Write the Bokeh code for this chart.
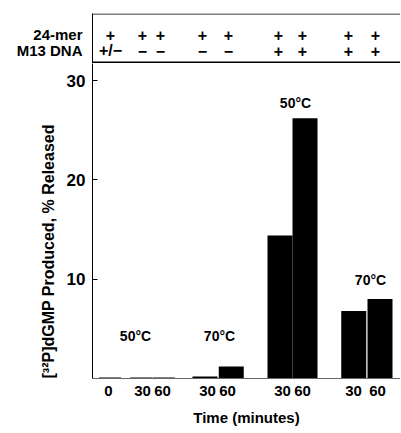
from bokeh.plotting import figure
from bokeh.models import ColumnDataSource, FixedTicker, Span, Range1d, Title
from bokeh.layouts import column
from bokeh.core.properties import value
from bokeh.embed import file_html
from bokeh.resources import INLINE

# ---- data ----
time_labels = ["0", "30", "60", "30", "60", "30", "60", "30", "60"]
tick_pos = [0.64, 2.0, 2.8, 4.6, 5.4, 7.6, 8.4, 10.44, 11.4]
bar_pos = [0.7, 1.95, 2.85, 4.5, 5.55, 7.5, 8.5, 10.45, 11.5]
bar_width = [0.88, 0.88, 0.88, 1.0, 1.0, 1.0, 1.0, 1.0, 1.0]
released = [0.1, 0.1, 0.1, 0.2, 1.2, 14.4, 26.2, 6.8, 8.0]
header_pos = [0.72, 2.0, 2.72, 4.4, 5.44, 7.44, 8.4, 10.24, 11.32]
header_rows = ["24-mer", "M13 DNA"]
header_row_y = [29, 13]
mer24 = ["+", "+", "+", "+", "+", "+", "+", "+", "+"]
m13 = ["+/\u2212", "\u2212", "\u2212", "\u2212", "\u2212", "+", "+", "+", "+"]
temp_labels = ["50\u00b0C", "70\u00b0C", "50\u00b0C", "70\u00b0C"]
temp_x = [1.72, 5.08, 8.12, 11.12]
temp_y = [4.3, 4.3, 27.7, 9.9]
y_ticks = [10, 20, 30]

FONT = "Liberation Sans"
xr = Range1d(0, 12.32)

# ---- header panel ----
h = figure(width=400, height=63, output_backend="svg", toolbar_location=None,
           x_range=xr, y_range=(0, 50), x_axis_location=None,
           min_border_left=92, min_border_right=0, min_border_top=13, min_border_bottom=0)
h.outline_line_color = None
h.xgrid.visible = False
h.ygrid.visible = False
hdr = ColumnDataSource(dict(x=header_pos, a=mer24, b=m13,
                            ya=[header_row_y[0]] * 9, yb=[header_row_y[1]] * 9))
for col, ycol in [("a", "ya"), ("b", "yb")]:
    h.text(x="x", y=ycol, text=col, source=hdr, text_font=value(FONT), text_font_style="bold",
           text_font_size="16px", text_align="center", text_baseline="middle", text_color="black")
h.add_layout(Span(location=49.5, dimension="width", line_color="black", line_width=1))
h.add_layout(Span(location=1, dimension="width", line_color="black", line_width=2))
hy = h.yaxis[0]
hy.ticker = FixedTicker(ticks=header_row_y)
hy.major_label_overrides = {yy: t for yy, t in zip(header_row_y, header_rows)}
hy.major_tick_line_color = None
hy.minor_tick_line_color = None
hy.axis_line_color = "black"
hy.major_label_standoff = 4
hy.major_label_text_font = FONT
hy.major_label_text_font_style = "bold"
hy.major_label_text_font_size = "15px"
hy.major_label_text_color = "black"

# ---- main chart ----
p = figure(width=400, height=369, output_backend="svg", toolbar_location=None,
           x_range=xr, y_range=(0, 31.72),
           min_border_left=92, min_border_right=0, min_border_top=0, min_border_bottom=54)
p.outline_line_color = None
p.xgrid.visible = False
p.ygrid.visible = False

src = ColumnDataSource(dict(x=bar_pos, w=bar_width, top=released))
p.vbar(x="x", width="w", top="top", bottom=0, source=src, fill_color="black", line_color=None)

p.text(x=temp_x, y=temp_y, text=temp_labels, text_font=value(FONT), text_font_style="bold",
       text_font_size="14px", text_align="center", text_baseline="middle", text_color="black")

xa = p.xaxis[0]
xa.ticker = FixedTicker(ticks=tick_pos)
xa.major_label_overrides = {tp: lab for tp, lab in zip(tick_pos, time_labels)}
xa.major_tick_in = 0
xa.major_tick_out = 0
xa.minor_tick_line_color = None
xa.axis_line_color = "#666666"
xa.major_label_standoff = 7
xa.major_label_text_font = FONT
xa.major_label_text_font_style = "bold"
xa.major_label_text_font_size = "15px"
xa.major_label_text_color = "black"
xa.axis_label = "Time (minutes)"
xa.axis_label_standoff = 10
xa.axis_label_text_font = FONT
xa.axis_label_text_font_style = "bold"
xa.axis_label_text_font_size = "15px"
xa.axis_label_text_color = "black"

ya = p.yaxis[0]
ya.ticker = FixedTicker(ticks=y_ticks)
ya.major_tick_in = 5
ya.major_tick_out = 0
ya.minor_tick_line_color = None
ya.axis_line_color = "black"
ya.major_tick_line_color = "black"
ya.major_label_standoff = 7
ya.major_label_text_font = FONT
ya.major_label_text_font_style = "bold"
ya.major_label_text_font_size = "17px"
ya.major_label_text_color = "black"

p.add_layout(Title(text="[\u00b3\u00b2P]dGMP Produced, % Released", align="left",
                   text_font=FONT, text_font_style="bold", text_font_size="16px",
                   text_color="black", standoff=14), "left")

layout = column(h, p, spacing=0)
open("out.html", "w").write(file_html(layout, INLINE))
